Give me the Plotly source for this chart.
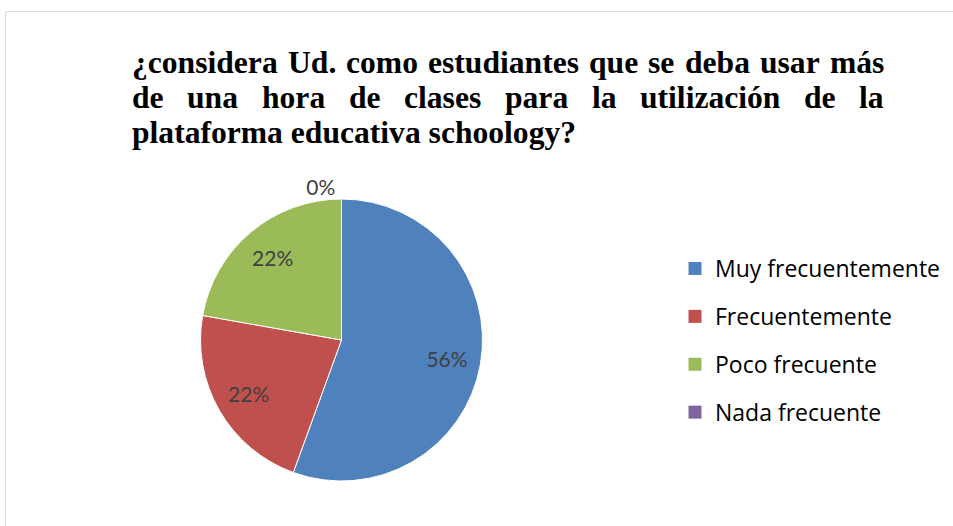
import plotly.graph_objects as go

W, H = 953, 526

categories = ["Muy frecuentemente", "Frecuentemente", "Poco frecuente", "Nada frecuente"]
counts = [5, 2, 2, 0]
colors = ["#4F81BD", "#C0504D", "#9BBB59", "#8064A2"]

title_line1 = "¿considera Ud. como estudiantes que se deba usar más"
title_line2 = "de una hora de clases para la utilización de la"
title_line3 = "plataforma educativa schoology?"

def px(x):
    return x / W

def py(y):
    return 1 - y / H

# Times / Liberation Serif Bold advance widths (per 1000 em), used to justify the title lines
ADV = {"a": 500, "b": 556, "c": 444, "d": 556, "e": 444, "f": 333, "g": 500, "h": 556, "i": 278,
       "j": 333, "k": 556, "l": 278, "m": 833, "n": 556, "o": 500, "p": 556, "q": 556, "r": 444,
       "s": 389, "t": 333, "u": 556, "v": 500, "w": 722, "x": 500, "y": 500, "z": 444,
       "á": 500, "ó": 500, "¿": 500, "?": 500, ".": 250, "U": 722}

def word_w(w, size):
    return sum(ADV.get(ch, 500) for ch in w) * size / 1000.0

def justified(line, x_left, x_right, size):
    words = line.split(" ")
    total = sum(word_w(w, size) for w in words)
    gap = (x_right - x_left - total) / (len(words) - 1)
    xs, x = [], x_left
    for w in words:
        xs.append(x)
        x += word_w(w, size) + gap
    return list(zip(words, xs))

fig = go.Figure()

cx, cy, r = 341.5, 340, 141
dom = dict(x=[px(cx - r), px(cx + r)], y=[py(cy + r), py(cy - r)])

fig.add_trace(go.Pie(
    labels=categories,
    values=counts,
    sort=False,
    direction="clockwise",
    rotation=0,
    marker=dict(colors=colors, line=dict(color="white", width=1)),
    textinfo="none",
    domain=dom,
    showlegend=False,
    hoverinfo="label+percent",
))

fig.add_trace(go.Pie(
    labels=categories,
    values=counts,
    sort=False,
    direction="clockwise",
    rotation=0,
    hole=0.52,
    marker=dict(colors=["rgba(0,0,0,0)"] * 4, line=dict(width=0)),
    texttemplate="%{percent:.0%}",
    textposition=["inside", "inside", "inside", "outside"],
    insidetextorientation="horizontal",
    textfont=dict(family="Lato", size=21, color="#404040"),
    domain=dom,
    showlegend=False,
    hoverinfo="skip",
))

for i, (cat, col) in enumerate(zip(categories, colors)):
    fig.add_trace(go.Scatter(
        x=[None], y=[None], mode="markers", name=cat,
        marker=dict(symbol="square", size=13, color=col),
        legendgroup=f"g{i}", showlegend=True,
    ))

TS = 31.6
tfont = dict(family="Liberation Serif", size=TS, color="black")
annotations = [
    dict(text="<b>" + title_line3 + "</b>", x=px(130), y=py(132.5), xanchor="left", yanchor="middle",
         showarrow=False, font=tfont, xref="paper", yref="paper"),
]
for line, yc in ((title_line1, 62), (title_line2, 97.5)):
    for w, xw in justified(line, 130, 882, TS):
        annotations.append(dict(text="<b>" + w + "</b>", x=px(xw), y=py(yc), xanchor="left",
                                yanchor="middle", showarrow=False, font=tfont,
                                xref="paper", yref="paper"))

fig.update_layout(
    width=W, height=H,
    margin=dict(l=0, r=0, t=0, b=0),
    paper_bgcolor="white", plot_bgcolor="white",
    xaxis=dict(visible=False), yaxis=dict(visible=False),
    showlegend=True,
    legend=dict(x=px(675), y=py(247), xanchor="left", yanchor="top",
                font=dict(family="Open Sans", size=23, color="black"),
                tracegroupgap=15, bgcolor="rgba(0,0,0,0)"),
    annotations=annotations,
    shapes=[dict(type="rect", xref="paper", yref="paper",
                 x0=px(5.5), x1=1.2, y0=-0.2, y1=py(11.5),
                 line=dict(color="#D9D9D9", width=1), fillcolor="rgba(0,0,0,0)", layer="below")],
)

fig.write_html("out.html", config={"displayModeBar": False},
               post_script="document.body.style.margin='0';document.body.style.overflow='hidden';")
